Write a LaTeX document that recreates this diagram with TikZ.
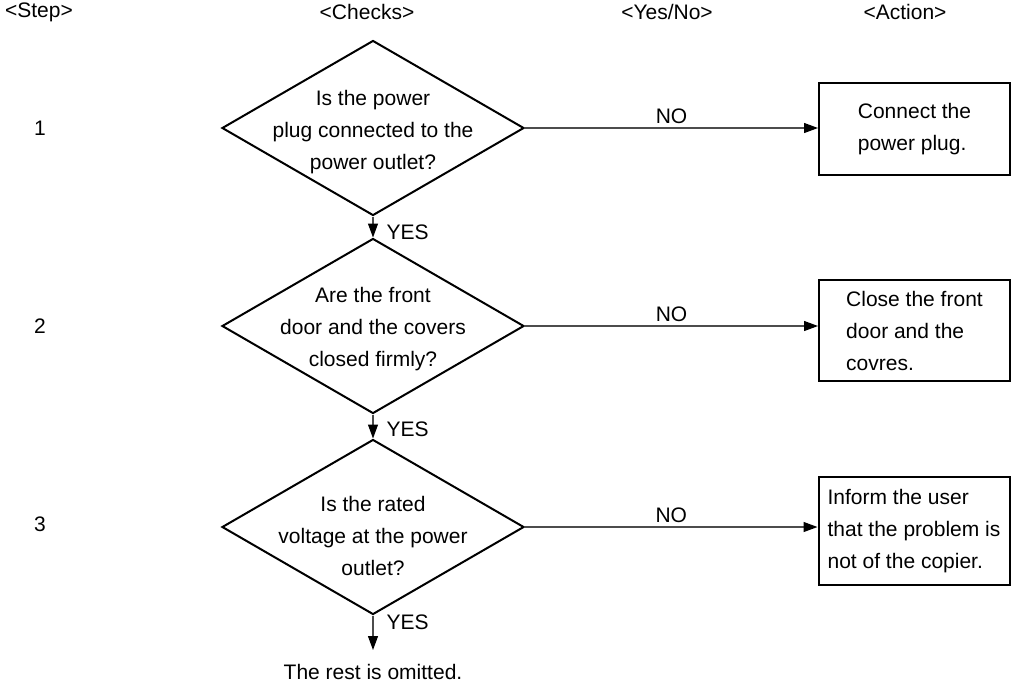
\documentclass[tikz,border=0pt]{standalone}
\usepackage{fontspec}
\setmainfont{Liberation Sans}
\usetikzlibrary{arrows.meta,positioning,shapes.geometric}
\newcommand{\fsz}{\fontsize{10.5}{16}\selectfont}
\tikzset{
  dia/.style={diamond,draw,line width=1pt,minimum width=151pt,minimum height=87.5pt,inner sep=0pt},
  dtx/.style={align=center,font=\fsz},
  act/.style={draw,line width=1pt,align=left,font=\fsz,minimum width=95.5pt,inner sep=0pt},
  ar/.style={-{Triangle[length=7pt,width=5pt,black]},line width=0.6pt,black!70},
  hd/.style={font=\fsz},
  yes/.style={anchor=west,inner sep=0pt,xshift=6.5pt,font=\fsz,text=black},
  no/.style={above,inner sep=2pt,font=\fsz,text=black}
}

\begin{document}
\begin{tikzpicture}[x=0.5pt,y=-0.5pt]
\useasboundingbox (0,0) rectangle (1012,687);
% column heads
\node[hd] (hstep) at (39,12) {<Step>};
\node[hd] (hchk) at (367,12) {<Checks>};
\node[hd] (hyn) at (667,12) {<Yes/No>};
\node[hd] (hact) at (905,12) {<Action>};
% checks
\node[dia,label={[dtx,yshift=-2pt]center:Is the power\\plug connected to the\\power outlet?}] (d1) at (373,128) {};
\node[dia,label={[dtx,yshift=-1.5pt]center:Are the front\\door and the covers\\closed firmly?}] (d2) at (373,326) {};
\node[dia,label={[dtx,yshift=-4.5pt]center:Is the rated\\voltage at the power\\outlet?}] (d3) at (373,527) {};
\node[hd] (s1) at (40,128) {1};
\node[hd] (s2) at (40,326) {2};
\node[hd] (s3) at (40,524) {3};
% actions
\node[act,minimum height=46pt] (b1) at (914.5,129) {Connect the\\power plug.};
\node[act,minimum height=50.5pt] (b2) at (914.5,330.5) {Close the front\\door and the\\covres.};
\node[act,minimum height=54pt] (b3) at (914,531) {Inform the user\\that the problem is\\not of the copier.};
\node[hd,anchor=north,inner ysep=7pt] (omit) at (373,650) {The rest is omitted.};
% connectors
\draw[ar] (d1.east) -- node[no]{NO} (d1.east -| b1.west);
\draw[ar] (d2.east) -- node[no]{NO} (d2.east -| b2.west);
\draw[ar] (d3.east) -- node[no]{NO} (d3.east -| b3.west);
\draw[ar] (d1.south) -- node[yes,pos=0.75]{YES} (d2.north);
\draw[ar] (d2.south) -- node[yes,pos=0.6]{YES} (d3.north);
\draw[ar] (d3.south) -- node[yes,pos=0.2]{YES} (omit.north);
\end{tikzpicture}
\end{document}
